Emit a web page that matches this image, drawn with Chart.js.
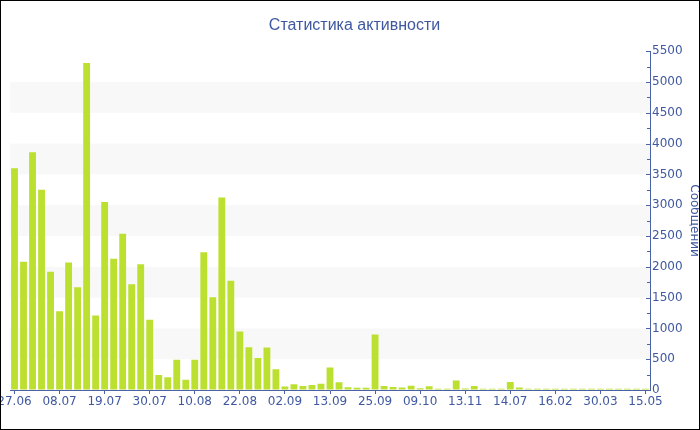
<!DOCTYPE html>
<html>
<head>
<meta charset="utf-8">
<script src="https://cdn.jsdelivr.net/npm/chart.js@4.4.1/dist/chart.umd.min.js"></script>
<style>
  html, body { margin: 0; padding: 0; background: #fff; }
  #wrap { width: 700px; height: 430px; box-sizing: border-box; border: 1px solid #000; }
</style>
</head>
<body>
<div id="wrap"><canvas id="bars" width="698" height="428"></canvas></div>
<script>
// every 5th category carries a date label
const tickLabels = ['27.06', '08.07', '19.07', '30.07', '10.08', '22.08', '02.09', '13.09', '25.09', '09.10', '13.11', '14.07', '16.02', '30.03', '15.05'];
const messages = [
  3600, 2080, 3860, 3250, 1920, 1280, 2070, 1670, 5310, 1210,
  3050, 2130, 2535, 1715, 2040, 1140, 245, 205, 490, 165,
  490, 2235, 1505, 3125, 1775, 950, 695, 520, 690, 335,
  55, 95, 65, 80, 100, 365, 125, 45, 35, 35,
  900, 65, 50, 40, 70, 30, 60, 20, 20, 155,
  25, 65, 20, 20, 20, 130, 40, 20, 20, 20,
  20, 20, 20, 20, 20, 20, 20, 20, 20, 20, 20
];
const bandRanges = [[500, 1000], [1500, 2000], [2500, 3000], [3500, 4000], [4500, 5000]];

const categories = messages.map((v, i) => i % 5 === 0 ? tickLabels[i / 5] : '');

const textColor = '#3f58a0';
const axisColor = '#4c62a4';

Chart.defaults.font.family = 'DejaVu Sans';

const bandsPlugin = {
  id: 'bands',
  beforeDatasetsDraw(chart) {
    const { ctx, chartArea, scales } = chart;
    ctx.save();
    ctx.fillStyle = '#f8f8f8';
    bandRanges.forEach(([a, b]) => {
      const y1 = scales.y.getPixelForValue(b);
      const y2 = scales.y.getPixelForValue(a);
      ctx.fillRect(chartArea.left, y1, chartArea.right - chartArea.left, y2 - y1);
    });
    ctx.restore();
  },
  afterDraw(chart) {
    // inner tick marks on the right axis, major every 500 and minor in between
    const { ctx, chartArea, scales } = chart;
    const x = chartArea.right;
    ctx.save();
    ctx.strokeStyle = axisColor;
    ctx.lineWidth = 1;
    for (let v = 0; v <= 5500; v += 250) {
      const y = Math.round(scales.y.getPixelForValue(v)) + 0.5;
      const len = v % 500 === 0 ? 4 : 3;
      ctx.beginPath();
      ctx.moveTo(x - len, y);
      ctx.lineTo(x, y);
      ctx.stroke();
    }
    ctx.restore();
  }
};

const barConfig = {
  type: 'bar',
  data: {
    labels: categories,
    datasets: [{
      label: 'Сообщений',
      data: messages,
      backgroundColor: '#bce02f',
      borderWidth: 0,
      categoryPercentage: 1,
      barPercentage: 0.76,
    }],
  },
  options: {
    responsive: false,
    animation: false,
    layout: { padding: { left: 9, right: 0, top: 0, bottom: 0 } },
    plugins: {
      legend: { display: false },
      tooltip: { enabled: false },
      title: {
        display: true,
        text: 'Статистика активности',
        color: textColor,
        font: { family: 'Liberation Sans', size: 16, weight: 'normal' },
        padding: { top: 15, bottom: 16 },
      },
    },
    scales: {
      x: {
        offset: true,
        grid: {
          offset: false,
          drawOnChartArea: false,
          drawTicks: true,
          tickLength: 4,
          color: ctx => ctx.index % 5 === 0 ? axisColor : 'rgba(0,0,0,0)',
        },
        border: { color: axisColor, width: 1 },
        ticks: { autoSkip: false, maxRotation: 0, minRotation: 0, padding: 1, color: textColor, font: { size: 12 } },
        afterFit(s) { s.height = 39; s.paddingLeft = 0; s.paddingRight = 0; },
      },
      y: {
        position: 'right',
        min: 0,
        max: 5500,
        grid: { drawOnChartArea: false, drawTicks: false },
        border: { color: axisColor, width: 1 },
        ticks: { stepSize: 500, padding: 2, color: textColor, font: { size: 12 }, callback: v => String(v) },
        title: {
          display: true,
          text: 'Сообщений',
          color: textColor,
          font: { size: 12 },
          padding: { top: -2, bottom: 0 },
        },
        afterFit(s) { s.width = 49; },
      },
    },
  },
  plugins: [bandsPlugin],
};

const barsCtx = document.getElementById('bars');
window.myBar = new Chart(barsCtx, barConfig);
</script>
</body>
</html>
